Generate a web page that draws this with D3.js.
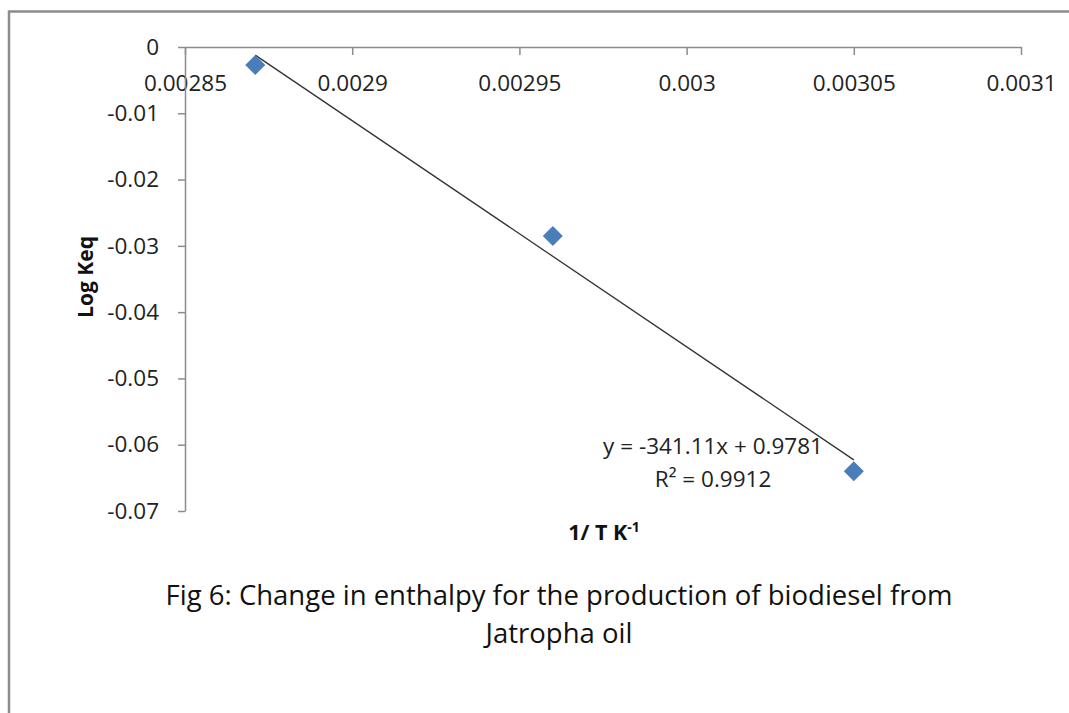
<!DOCTYPE html>
<html><head><meta charset="utf-8">
<script src="https://cdn.jsdelivr.net/npm/d3@7"></script>
<style>body{margin:0;background:#fff;} svg{display:block;}</style>
</head><body>
<svg id="c" width="1069" height="713"></svg>
<script>
const xValues = [0.002871, 0.00296, 0.00305];
const yValues = [-0.0027, -0.0285, -0.064];
const xTicks = [0.00285, 0.0029, 0.00295, 0.003, 0.00305, 0.0031];
const xTickLabels = ["0.00285", "0.0029", "0.00295", "0.003", "0.00305", "0.0031"];
const yTicks = [0, -0.01, -0.02, -0.03, -0.04, -0.05, -0.06, -0.07];
const yTickLabels = ["0", "-0.01", "-0.02", "-0.03", "-0.04", "-0.05", "-0.06", "-0.07"];
const trendSlope = -341.11, trendIntercept = 0.9781;
const equationText = "y = -341.11x + 0.9781";
const r2Text = "R² = 0.9912";
const captionLines = ["Fig 6: Change in enthalpy for the production of biodiesel from", "Jatropha oil"];

const svg = d3.select("#c");
const font = "'Open Sans', 'Liberation Sans', sans-serif";
// outer frame
svg.append("rect").attr("x", 9).attr("y", 11.5).attr("width", 1080).attr("height", 720)
  .attr("fill", "none").attr("stroke", "#8c8c8c").attr("stroke-width", 2.5);

const x = d3.scaleLinear().domain([0.00285, 0.0031]).range([185, 1021]);
const y = d3.scaleLinear().domain([0, -0.07]).range([47, 511]);

const xAxis = d3.axisBottom(x).tickValues(xTicks).tickSize(8).tickSizeOuter(0)
  .tickFormat((d, i) => xTickLabels[i]);
const gx = svg.append("g").attr("transform", `translate(0,${y(0)})`).call(xAxis);
gx.select(".domain").attr("stroke", "#8c8c8c").attr("stroke-width", 1.5);
gx.selectAll(".tick line").attr("stroke", "#8c8c8c").attr("stroke-width", 1.5);
gx.selectAll(".tick text").attr("font-family", font).attr("font-size", 22.5).attr("fill", "#222").attr("dy", 0).attr("y", 44);

const yAxis = d3.axisLeft(y).tickValues(yTicks).tickSize(7).tickSizeOuter(0)
  .tickFormat((d, i) => yTickLabels[i]);
const gy = svg.append("g").attr("transform", `translate(${x(0.00285)},0)`).call(yAxis);
gy.select(".domain").attr("stroke", "#8c8c8c").attr("stroke-width", 1.5);
gy.selectAll(".tick line").attr("stroke", "#8c8c8c").attr("stroke-width", 1.5);
gy.selectAll(".tick text").attr("font-family", font).attr("font-size", 22.5).attr("fill", "#222").attr("x", -26);

// trendline
const x0 = d3.min(xValues), x1 = d3.max(xValues);
svg.append("line")
  .attr("x1", x(x0)).attr("y1", y(trendSlope * x0 + trendIntercept))
  .attr("x2", x(x1)).attr("y2", y(trendSlope * x1 + trendIntercept))
  .attr("stroke", "#333").attr("stroke-width", 1.3);

// points
svg.selectAll(".pt").data(xValues).enter().append("path")
  .attr("d", d3.symbol().type(d3.symbolSquare).size(200))
  .attr("transform", (d, i) => `translate(${x(d)},${y(yValues[i])}) rotate(45)`)
  .attr("fill", "#4a7ebb");

// equation
svg.append("text").attr("x", 713).attr("y", 454).attr("text-anchor", "middle")
  .attr("font-family", font).attr("font-size", 22.5).attr("fill", "#222").text(equationText);
svg.append("text").attr("x", 713).attr("y", 487).attr("text-anchor", "middle")
  .attr("font-family", font).attr("font-size", 22.5).attr("fill", "#222").text(r2Text);

// axis titles
svg.append("text").attr("transform", "translate(93,277) rotate(-90)").attr("text-anchor", "middle")
  .attr("font-family", font).attr("font-size", 21).attr("font-weight", "bold").attr("fill", "#111").text("Log Keq");
const xt = svg.append("text").attr("x", 604).attr("y", 540).attr("text-anchor", "middle")
  .attr("font-family", font).attr("font-size", 21.5).attr("font-weight", "bold").attr("fill", "#111");
xt.append("tspan").text("1/ T K");
xt.append("tspan").attr("dy", -8).attr("font-size", 14).text("-1");

// caption
svg.selectAll(".cap").data(captionLines).enter().append("text")
  .attr("x", 559).attr("y", (d, i) => 605 + i * 38).attr("text-anchor", "middle")
  .attr("font-family", font).attr("font-size", 27.5).attr("fill", "#111").text(d => d);
</script>
</body></html>
